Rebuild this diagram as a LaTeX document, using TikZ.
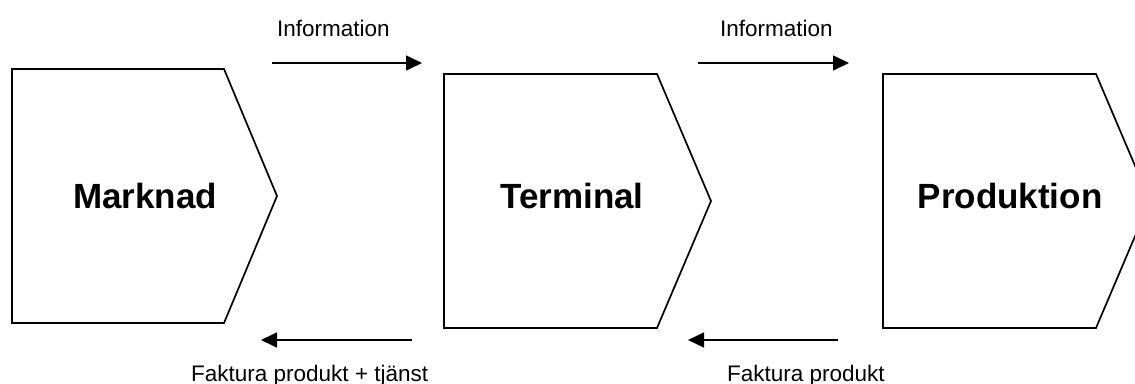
\documentclass[tikz,border=0pt]{standalone}
\usepackage{fontspec}
\setmainfont{Liberation Sans}
\usetikzlibrary{arrows.meta}
\begin{document}
\begin{tikzpicture}[x=1pt,y=-1pt,
  stage/.style={draw=black, line width=1.7pt, line join=miter},
  flow/.style={line width=1.6pt, -{Triangle[length=16pt,width=15pt]}},
  title/.style={font=\bfseries\fontsize{35}{40}\selectfont, inner sep=0pt, anchor=base},
  lab/.style={font=\fontsize{22.5}{26}\selectfont, inner sep=0pt, anchor=base west}]
\useasboundingbox (0,0) rectangle (1135,383);
\clip (0,0) rectangle (1135,383);
% stages
\draw[stage] (12,69) -- (224,69) -- (277,196) -- (224,323) -- (12,323) -- cycle;
\draw[stage] (444,74) -- (657,74) -- (711,201) -- (657,328) -- (444,328) -- cycle;
\draw[stage] (883,74) -- (1096,74) -- (1150,201) -- (1096,328) -- (883,328) -- cycle;
\node[title] (marknad) at (145,208) {Marknad};
\node[title] (terminal) at (572,208) {Terminal};
\node[title] (produktion) at (1010,208) {Produktion};
% flows
\coordinate (i1a) at (272,63); \coordinate (i1b) at (422,63);
\coordinate (i2a) at (698,63); \coordinate (i2b) at (849,63);
\coordinate (f1a) at (412,340); \coordinate (f1b) at (261,340);
\coordinate (f2a) at (838,340); \coordinate (f2b) at (688,340);
\draw[flow] (i1a) -- (i1b);
\draw[flow] (i2a) -- (i2b);
\draw[flow] (f1a) -- (f1b);
\draw[flow] (f2a) -- (f2b);
\node[lab] (info1) at (277,36) {Information};
\node[lab] (info2) at (720,36) {Information};
\node[lab] (fakt1) at (191,381) {Faktura produkt + tjänst};
\node[lab] (fakt2) at (727,381) {Faktura produkt};
\end{tikzpicture}
\end{document}
